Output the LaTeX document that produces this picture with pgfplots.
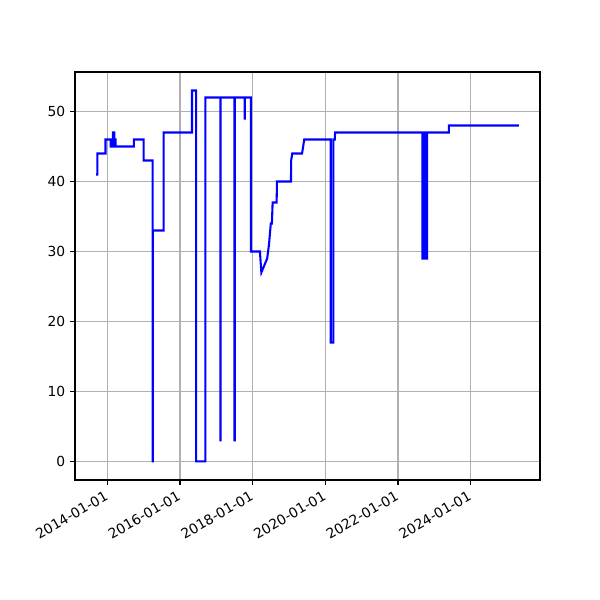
\documentclass[border=0pt]{standalone}
\usepackage{pgfplots}
\pgfplotsset{compat=1.18}
\usepackage{fontspec}
\setmainfont{DejaVu Sans}
\begin{document}
\begin{tikzpicture}
\path[use as bounding box] (0,0) rectangle (6in,6in);
\begin{axis}[
  at={(0.75in,1.20in)}, anchor=south west,
  width=4.65in, height=4.08in, scale only axis,
  xmin=2013.11, xmax=2025.91, ymin=-2.65, ymax=55.65,
  xtick={2014,2016,2018,2020,2022,2024},
  xticklabels={2014-01-01,2016-01-01,2018-01-01,2020-01-01,2022-01-01,2024-01-01},
  ytick={0,10,20,30,40,50},
  /pgf/number format/assume math mode=true,
  xticklabel style={rotate=30, anchor=north east, font=\fontsize{10}{12}\selectfont, inner sep=1.5pt, xshift=-2.5pt, yshift=-0.5pt},
  yticklabel style={font=\fontsize{10}{12}\selectfont},
  tick align=outside, major tick length=3.5pt,
  tick style={black, line width=0.8pt},
  xtick pos=bottom, ytick pos=left,
  axis line style={line width=0.8pt},
  grid=major, major grid style={color=black!31, line width=0.8pt},
]
\addplot[color=blue, line width=1.5pt, line join=miter, line cap=butt] coordinates {
(2013.69,41)(2013.725,41)(2013.725,44)(2013.95,44)(2013.95,46)(2014.09,46)(2014.09,45)
(2014.155,45)(2014.155,47)(2014.19,47)(2014.19,45)(2014.21,45)(2014.21,46)(2014.23,46)(2014.23,45)
(2014.73,45)(2014.73,46)(2015.0,46)(2015.0,43)
(2015.245,43)(2015.245,0)(2015.25,0)(2015.25,33)
(2015.55,33)(2015.55,47)(2016.33,47)(2016.33,53)
(2016.445,53)(2016.445,0)(2016.70,0)(2016.70,52)
(2017.11,52)(2017.11,3)(2017.12,3)(2017.12,52)
(2017.50,52)(2017.50,3)(2017.51,3)(2017.51,52)
(2017.78,52)(2017.78,49)(2017.785,49)(2017.785,52)
(2017.95,52)(2017.95,30)(2018.20,30)(2018.24,27)(2018.40,29)(2018.45,31)(2018.50,34)(2018.53,34)
(2018.55,37)(2018.66,37)(2018.67,40)(2019.055,40)(2019.06,43)(2019.09,44)(2019.36,44)(2019.42,46)
(2020.15,46)(2020.15,17)(2020.22,17)(2020.22,46)(2020.26,46)(2020.27,47)
(2022.67,47)(2022.67,29)(2022.68,29)(2022.68,47)
(2022.70,47)(2022.70,29)(2022.71,29)(2022.71,47)
(2022.73,47)(2022.73,29)(2022.74,29)(2022.74,47)
(2022.76,47)(2022.76,29)(2022.77,29)(2022.77,47)
(2022.79,47)(2022.79,29)(2022.80,29)(2022.80,47)
(2023.40,47)(2023.40,48)(2025.33,48)
};
\end{axis}
\end{tikzpicture}
\end{document}
